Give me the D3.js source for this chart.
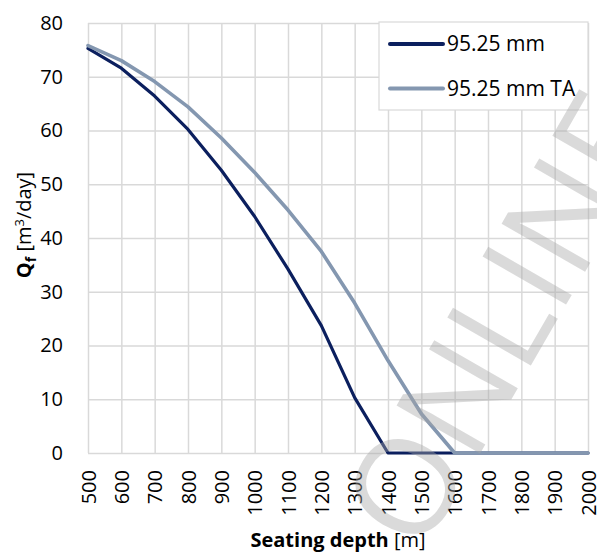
<!DOCTYPE html>
<html>
<head>
<meta charset="utf-8">
<script src="https://cdn.jsdelivr.net/npm/d3@7"></script>
<style>
  body { margin: 0; background: #fff; }
  svg { display: block; font-family: "Open Sans", sans-serif; }
</style>
</head>
<body>
<script>
// seating depth [m]
var depths = [500, 600, 700, 800, 900, 1000, 1100, 1200, 1300, 1400, 1500, 1600, 1700, 1800, 1900, 2000];
// Qf [m3/day]
var qPlain = [75.3, 71.6, 66.4, 60.2, 52.6, 44.0, 34.2, 23.7, 10.3, 0, 0, 0, 0, 0, 0, 0];
var qTA = [75.8, 73.0, 69.1, 64.4, 58.6, 52.2, 45.2, 37.5, 27.9, 17.2, 7.3, 0, 0, 0, 0, 0];
var seriesNames = ["95.25 mm", "95.25 mm TA"];
var seriesColors = ["#0b1f5e", "#8497b0"];
var yTicks = [0, 10, 20, 30, 40, 50, 60, 70, 80];

var W = 597, H = 556;
var m = {left: 88, right: 9, top: 23, bottom: 103};
var w = W - m.left - m.right, h = H - m.top - m.bottom;

var svg = d3.select('body').append('svg').attr('width', W).attr('height', H);
var g = svg.append('g').attr('transform', 'translate(' + m.left + ',' + m.top + ')');

var x = d3.scaleLinear().domain([500, 2000]).range([0, w]);
var y = d3.scaleLinear().domain([0, 80]).range([h, 0]);

// grid + y labels
var yAxis = g.append('g')
  .call(d3.axisLeft(y).tickValues(yTicks).tickSize(-w).tickPadding(25));
yAxis.select('.domain').remove();
yAxis.selectAll('line').attr('stroke', '#d9d9d9').attr('stroke-width', 1.5);
yAxis.selectAll('text').attr('font-size', 20).attr('fill', '#000')
  .attr('font-family', '"Open Sans", sans-serif');

var xAxis = g.append('g').attr('transform', 'translate(0,' + h + ')')
  .call(d3.axisBottom(x).tickValues(depths).tickSize(-h).tickFormat(d3.format('d')));
xAxis.select('.domain').remove();
xAxis.selectAll('line').attr('stroke', '#d9d9d9').attr('stroke-width', 1.5);
xAxis.selectAll('text')
  .attr('font-size', 20).attr('fill', '#000')
  .attr('font-family', '"Open Sans", sans-serif')
  .attr('text-anchor', 'end')
  .attr('transform', 'rotate(-90)')
  .attr('x', -17).attr('y', 0).attr('dy', '0.35em');

// lines
var line = d3.line().x(function (d, i) { return x(depths[i]); }).y(function (d) { return y(d); });
[qPlain, qTA].forEach(function (vals, k) {
  g.append('path').datum(vals)
    .attr('fill', 'none')
    .attr('stroke', seriesColors[k])
    .attr('stroke-width', k === 0 ? 3.2 : 3.6)
    .attr('stroke-linejoin', 'round')
    .attr('stroke-linecap', 'round')
    .attr('d', line);
});

// legend
var lg = g.append('g').attr('transform', 'translate(' + (w - 209) + ',-1)');
lg.append('rect').attr('width', 209).attr('height', 88)
  .attr('fill', '#fff').attr('stroke', '#d9d9d9').attr('stroke-width', 1.2);
seriesNames.forEach(function (name, k) {
  var yy = 22 + k * 44.5;
  lg.append('line').attr('x1', 11).attr('x2', 64).attr('y1', yy).attr('y2', yy)
    .attr('stroke', seriesColors[k]).attr('stroke-width', 4).attr('stroke-linecap', 'round');
  lg.append('text').attr('x', 68).attr('y', yy).attr('dy', '0.35em')
    .attr('font-size', 21).attr('fill', '#000').text(name);
});

// axis titles
var xt = svg.append('text').attr('x', m.left + w / 2).attr('y', 547)
  .attr('text-anchor', 'middle').attr('font-size', 20).attr('fill', '#000');
xt.append('tspan').attr('font-weight', 'bold').text('Seating depth');
xt.append('tspan').text(' [m]');

var yt = svg.append('text').attr('transform', 'translate(31,225) rotate(-90)')
  .attr('text-anchor', 'middle').attr('font-size', 20).attr('fill', '#000');
yt.append('tspan').attr('font-weight', 'bold').text('Q');
yt.append('tspan').attr('font-weight', 'bold').attr('font-size', 14).attr('dy', 5).text('f');
yt.append('tspan').attr('dy', -5).text(' [m');
yt.append('tspan').attr('font-size', 13).attr('dy', -7).text('3');
yt.append('tspan').attr('dy', 7).text('/day]');

// watermark
svg.append('text')
  .attr('transform', 'translate(421,556) rotate(-60)')
  .attr('font-size', 135).attr('font-weight', 400)
  .attr('font-family', '"Open Sans", sans-serif')
  .attr('fill', '#a6a6a6').attr('fill-opacity', 0.42)
  .text('ONLINE');
</script>
</body>
</html>
